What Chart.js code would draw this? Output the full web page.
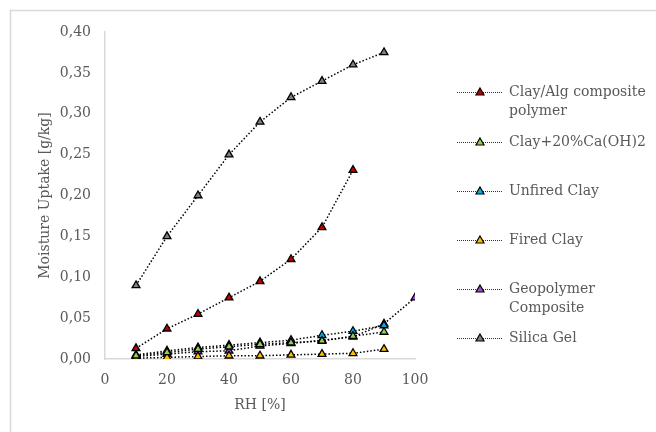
<!DOCTYPE html>
<html>
<head>
<meta charset="utf-8">
<script src="https://cdn.jsdelivr.net/npm/chart.js@4.4.1/dist/chart.umd.min.js"></script>
<style>
  html, body { margin: 0; padding: 0; background: #fff; }
  #wrap { width: 656px; height: 432px; }
</style>
</head>
<body>
<div id="wrap"><canvas id="uptakeChart" width="656" height="432"></canvas></div>
<script>
// RH values (x) and moisture uptake per material (y, g/kg)
const rh = [10, 20, 30, 40, 50, 60, 70, 80, 90, 100];
const clayAlg = [0.013, 0.037, 0.055, 0.075, 0.095, 0.122, 0.161, 0.231, null, null];
const clayCa = [0.004, 0.008, 0.012, 0.015, 0.018, 0.020, 0.022, 0.028, 0.033, null];
const unfiredClay = [0.005, 0.010, 0.014, 0.017, 0.020, 0.023, 0.029, 0.034, 0.041, null];
const firedClay = [0.001, 0.002, 0.003, 0.004, 0.004, 0.005, 0.006, 0.007, 0.012, null];
const geopolymer = [0.003, 0.006, 0.009, 0.010, 0.016, 0.019, 0.023, 0.027, 0.043, 0.075];
const silicaGel = [0.09, 0.15, 0.20, 0.25, 0.29, 0.32, 0.34, 0.36, 0.375, null];

const seriesNames = [
    ['Clay/Alg composite', 'polymer'],
    ['Clay+20%Ca(OH)2'],
    ['Unfired Clay'],
    ['Fired Clay'],
    ['Geopolymer', 'Composite'],
    ['Silica Gel']
];
const seriesValues = [clayAlg, clayCa, unfiredClay, firedClay, geopolymer, silicaGel];
const seriesColors = ['#C00000', '#92D050', '#00B0F0', '#FFC000', '#9B4FD0', '#808080'];

const fontFamily = "'DejaVu Serif', serif";
const textColor = '#595959';

function toPoints(values) {
    return rh.map((x, i) => ({ x: x, y: values[i] }));
}

// light frame round the chart
const framePlugin = {
    id: 'frame',
    beforeDraw(chart) {
        const c = chart.ctx;
        c.save();
        c.strokeStyle = '#D9D9D9';
        c.lineWidth = 1.5;
        c.beginPath();
        c.moveTo(10.5, 440);
        c.lineTo(10.5, 10.5);
        c.lineTo(660, 10.5);
        c.stroke();
        c.restore();
    }
};

// legend at the right, with two-line labels
const sideLegend = {
    id: 'sideLegend',
    afterDraw(chart) {
        const c = chart.ctx;
        const rowY = [92, 142, 191, 240, 289, 338];
        c.save();
        c.font = '14px ' + fontFamily;
        c.textBaseline = 'middle';
        chart.data.datasets.forEach((ds, i) => {
            const y = rowY[i];
            c.strokeStyle = '#333';
            c.lineWidth = 1;
            c.setLineDash([1, 1]);
            c.beginPath();
            c.moveTo(457, y + 0.5);
            c.lineTo(502, y + 0.5);
            c.stroke();
            c.setLineDash([]);
            c.fillStyle = ds.pointBackgroundColor;
            c.strokeStyle = '#000';
            c.beginPath();
            c.moveTo(480, y - 4);
            c.lineTo(484, y + 3);
            c.lineTo(476, y + 3);
            c.closePath();
            c.fill();
            c.lineWidth = 1.2;
            c.stroke();
            c.fillStyle = textColor;
            seriesNames[i].forEach((line, k) => {
                c.fillText(line, 509, y + k * 19);
            });
        });
        c.restore();
    }
};

const ctx = document.getElementById('uptakeChart');
new Chart(ctx, {
    type: 'line',
    data: {
        datasets: seriesValues.map((vals, i) => ({
            label: seriesNames[i].join(' '),
            data: toPoints(vals),
            borderColor: '#000',
            borderWidth: 1.5,
            borderDash: [1.5, 2],
            pointStyle: 'triangle',
            pointRadius: 4.5,
            pointBorderWidth: 1.3,
            pointBorderColor: '#000',
            pointBackgroundColor: seriesColors[i],
            fill: false,
            tension: 0,
            spanGaps: false
        }))
    },
    options: {
        responsive: false,
        animation: false,
        layout: {
            padding: { left: 10, right: 241, top: 32, bottom: 0 }
        },
        plugins: {
            legend: { display: false },
            tooltip: { enabled: false }
        },
        scales: {
            x: {
                type: 'linear',
                min: 0,
                max: 100,
                ticks: {
                    stepSize: 20,
                    color: textColor,
                    padding: 13,
                    font: { size: 14, family: fontFamily }
                },
                title: {
                    display: true,
                    text: 'RH [%]',
                    color: textColor,
                    padding: { top: 4, bottom: 18 },
                    font: { size: 14, family: fontFamily }
                },
                grid: { display: false, drawTicks: false },
                border: { color: '#D9D9D9', width: 1.5 },
                afterFit(scale) { scale.height = 73; }
            },
            y: {
                min: 0,
                max: 0.4,
                ticks: {
                    stepSize: 0.05,
                    color: textColor,
                    padding: 14,
                    font: { size: 14, family: fontFamily },
                    callback: (v) => v.toFixed(2).replace('.', ',')
                },
                title: {
                    display: true,
                    text: 'Moisture Uptake [g/kg]',
                    color: textColor,
                    padding: { top: 27, bottom: 6 },
                    font: { size: 14, family: fontFamily }
                },
                grid: { display: false, drawTicks: false },
                border: { color: '#D9D9D9', width: 1.5 },
                afterFit(scale) { scale.width = 95; }
            }
        }
    },
    plugins: [framePlugin, sideLegend]
});
</script>
</body>
</html>
